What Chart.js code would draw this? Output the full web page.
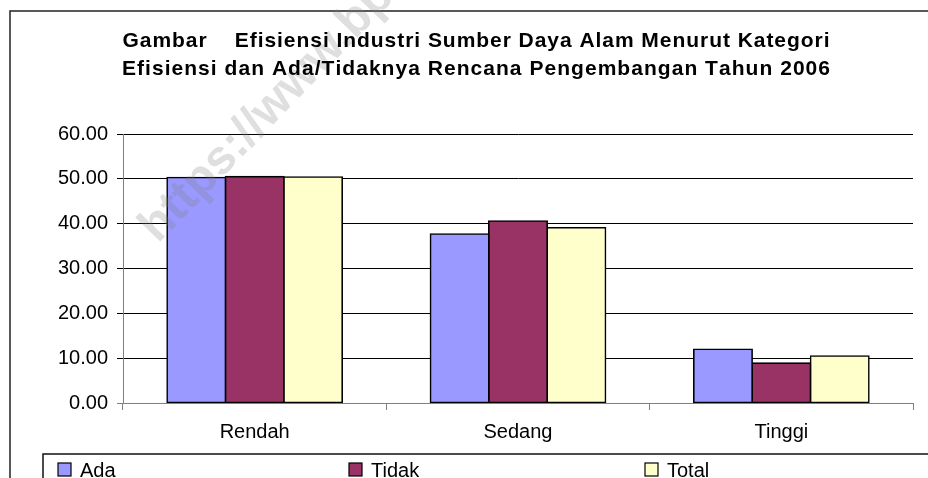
<!DOCTYPE html>
<html><head><meta charset="utf-8">
<script src="https://cdn.jsdelivr.net/npm/chart.js@4.4.1/dist/chart.umd.min.js"></script>
<style>html,body{margin:0;padding:0;background:#fff;overflow:hidden}#c{display:block}</style>
</head><body>
<canvas id="c" width="928" height="478" style="width:928px;height:478px"></canvas>
<script>
const categories = ['Rendah', 'Sedang', 'Tinggi'];
const seriesNames = ['Ada', 'Tidak', 'Total'];
const ada = [50.3, 37.7, 12.0];
const tidak = [50.5, 40.6, 8.9];
const total = [50.4, 39.1, 10.5];
const yTicks = [0, 10, 20, 30, 40, 50, 60];
const titleLines = [
  'Gambar    Efisiensi Industri Sumber Daya Alam Menurut Kategori',
  'Efisiensi dan Ada/Tidaknya Rencana Pengembangan Tahun 2006'
];
const watermark = 'https://www.bps.go.id';

const FONT = '"Liberation Sans", Arial, sans-serif';
const colors = ['#9999FF', '#993366', '#FFFFCC'];

function drawSpaced(ctx, text, cx, y, targetW) {
  const chars = [...text];
  let base = 0;
  const ws = chars.map(c => { const w = ctx.measureText(c).width; base += w; return w; });
  const ls = (targetW - base) / (chars.length - 1);
  let x = cx - targetW / 2;
  chars.forEach((c, i) => { ctx.fillText(c, x, y); x += ws[i] + ls; });
}

const decor = {
  id: 'decor',
  beforeDraw(chart) {
    const ctx = chart.ctx;
    ctx.save();
    ctx.fillStyle = '#fff';
    ctx.fillRect(0, 0, chart.width, chart.height);
    ctx.strokeStyle = '#222';
    ctx.lineWidth = 1.5;
    ctx.strokeRect(10, 11, 1000, 1000);
    ctx.restore();
  },
  afterDatasetsDraw(chart) {
    const ctx = chart.ctx;
    ctx.save();
    ctx.translate(158, 244);
    ctx.rotate(-46 * Math.PI / 180);
    ctx.font = 'bold 48px ' + FONT;
    ctx.fillStyle = 'rgba(128,128,128,0.25)';
    ctx.textBaseline = 'alphabetic';
    ctx.fillText(watermark, 0, 0);
    ctx.restore();
  },
  afterDraw(chart) {
    const ctx = chart.ctx;
    ctx.save();
    // title
    ctx.fillStyle = '#000';
    ctx.font = 'bold 21px ' + FONT;
    ctx.textBaseline = 'alphabetic';
    ctx.textAlign = 'left';
    drawSpaced(ctx, titleLines[0], 476, 47, 707);
    drawSpaced(ctx, titleLines[1], 476, 75, 708);
    // legend
    ctx.strokeStyle = '#111';
    ctx.lineWidth = 1.5;
    ctx.strokeRect(43, 454, 1000, 100);
    const xs = [58, 349, 645];
    ctx.font = '20px ' + FONT;
    chart.data.datasets.forEach((ds, i) => {
      ctx.fillStyle = ds.backgroundColor;
      ctx.fillRect(xs[i], 463, 13, 13);
      ctx.strokeStyle = '#000';
      ctx.lineWidth = 1.2;
      ctx.strokeRect(xs[i], 463, 13, 13);
      ctx.fillStyle = '#000';
      ctx.fillText(ds.label, xs[i] + 22, 477);
    });
    ctx.restore();
  }
};

new Chart(document.getElementById('c'), {
  type: 'bar',
  data: {
    labels: categories,
    datasets: [ada, tidak, total].map((d, i) => ({
      label: seriesNames[i],
      data: d,
      backgroundColor: colors[i],
      borderColor: '#000',
      borderWidth: 1.6,
      borderSkipped: false,
      inflateAmount: 0.8,
      barPercentage: 1.0,
      categoryPercentage: 0.665
    }))
  },
  options: {
    responsive: false,
    animation: false,
    devicePixelRatio: 1,
    layout: { padding: { left: 0, right: 15, top: 134, bottom: 0 } },
    plugins: { legend: { display: false }, title: { display: false }, tooltip: { enabled: false } },
    scales: {
      x: {
        offset: true,
        grid: { offset: true, drawOnChartArea: false, drawTicks: true, tickLength: 7, color: '#808080', lineWidth: 1 },
        border: { display: true, color: '#808080', width: 1 },
        ticks: { font: { family: FONT, size: 20 }, color: '#000', padding: 10 },
        afterFit(s) { s.height = 75; }
      },
      y: {
        min: 0, max: 60,
        afterBuildTicks(s) { s.ticks = yTicks.map(v => ({ value: v })); },
        ticks: { font: { family: FONT, size: 20 }, color: '#000', padding: 9, callback: v => Number(v).toFixed(2) },
        grid: { color: ctx => ctx.tick && ctx.tick.value === 0 ? '#808080' : '#000', lineWidth: 1, tickLength: 6, drawTicks: true },
        border: { display: true, color: '#808080', width: 1 },
        afterFit(s) { s.width = 123; }
      }
    }
  },
  plugins: [decor]
});
</script>
</body></html>
